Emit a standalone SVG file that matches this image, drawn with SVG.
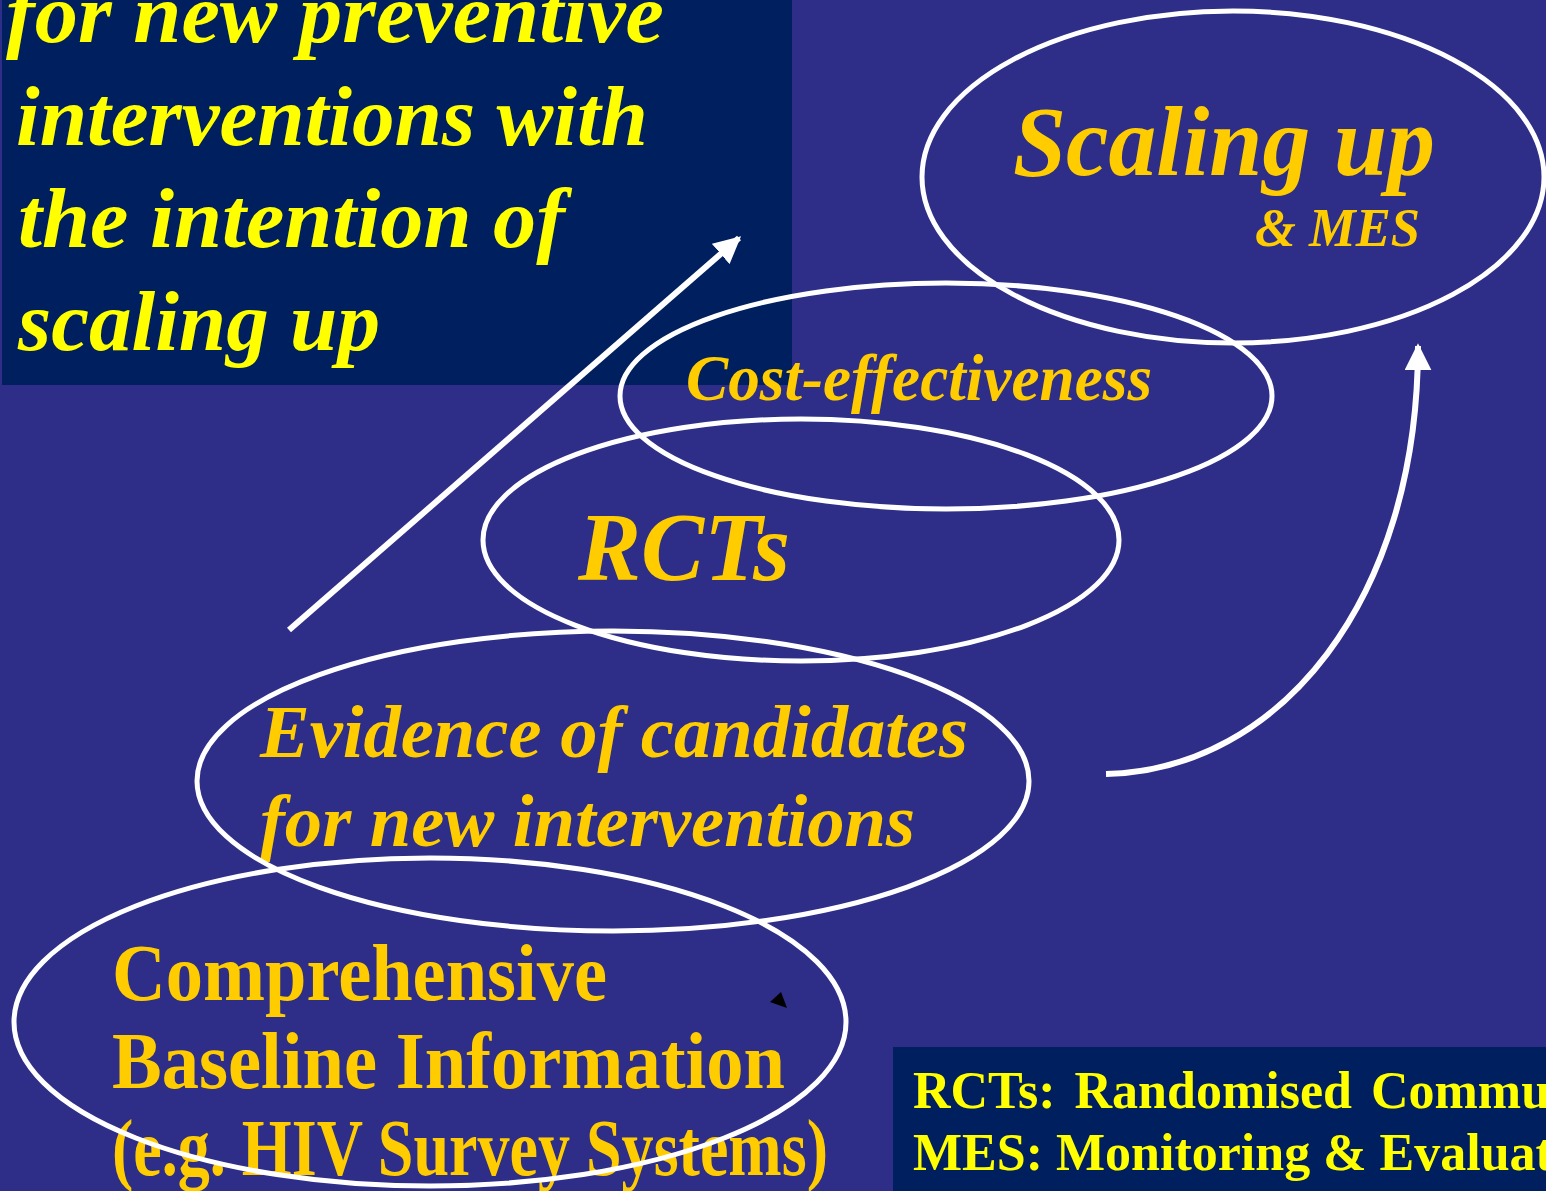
<svg xmlns="http://www.w3.org/2000/svg" width="1546" height="1191" viewBox="0 0 1546 1191">
<defs>
<style>
.yl{fill:#FFFF00;font-family:"Liberation Serif","Times New Roman",serif;font-weight:bold;}
.gd{fill:#FFCC00;font-family:"Liberation Serif","Times New Roman",serif;font-weight:bold;}
.it{font-style:italic;}
.ell{fill:none;stroke:#FFFFFF;stroke-width:5;}
.con{fill:none;stroke:#FFFFFF;stroke-width:6;}
</style>
<marker id="ah" viewBox="0 0 10 10" refX="9" refY="5" markerWidth="4.5" markerHeight="4.5" markerUnits="strokeWidth" orient="auto">
<path d="M0,0 L10,5 L0,10 Z" fill="#FFFFFF"/>
</marker>
</defs>
<rect x="0" y="0" width="1546" height="1191" fill="#2E2E88"/>
<g id="title-box">
<rect x="2" y="0" width="790" height="385" fill="#001F5E"/>
<text class="yl it" font-size="84" x="6" y="42" textLength="658" lengthAdjust="spacingAndGlyphs">for new preventive</text>
<text class="yl it" font-size="84" x="16" y="145" textLength="632" lengthAdjust="spacingAndGlyphs">interventions with</text>
<text class="yl it" font-size="84" x="18" y="247" textLength="547" lengthAdjust="spacingAndGlyphs">the intention of</text>
<text class="yl it" font-size="84" x="18" y="350" textLength="362" lengthAdjust="spacingAndGlyphs">scaling up</text>
</g>
<g id="legend-box">
<rect x="893" y="1047" width="653" height="144" fill="#001F5E"/>
<text class="yl" font-size="52" x="913" y="1108" word-spacing="6">RCTs: Randomised Community</text>
<text class="yl" font-size="52" x="913" y="1170">MES: Monitoring &amp; Evaluation</text>
</g>
<g id="node-scaling">
<text class="gd it" font-size="100" x="1013" y="175" textLength="422" lengthAdjust="spacingAndGlyphs">Scaling up</text>
<text class="gd it" font-size="54" x="1255" y="246" textLength="165" lengthAdjust="spacingAndGlyphs">&amp; MES</text>
<ellipse class="ell" cx="1233" cy="177" rx="311" ry="166"/>
</g>
<g id="node-cost">
<text class="gd it" font-size="66" x="686" y="400" textLength="466" lengthAdjust="spacingAndGlyphs">Cost-effectiveness</text>
<ellipse class="ell" cx="946" cy="396" rx="326" ry="113"/>
</g>
<g id="node-rcts">
<text class="gd it" font-size="98" x="578" y="580" textLength="212" lengthAdjust="spacingAndGlyphs">RCTs</text>
<ellipse class="ell" cx="801" cy="540" rx="318" ry="121"/>
</g>
<g id="node-evidence">
<text class="gd it" font-size="75" x="260" y="757" textLength="708" lengthAdjust="spacingAndGlyphs">Evidence of candidates</text>
<text class="gd it" font-size="75" x="260" y="846" textLength="655" lengthAdjust="spacingAndGlyphs">for new interventions</text>
<ellipse class="ell" cx="613" cy="781" rx="416" ry="150"/>
</g>
<g id="node-baseline">
<text class="gd" font-size="80" x="112" y="1000" textLength="495" lengthAdjust="spacingAndGlyphs">Comprehensive</text>
<text class="gd" font-size="80" x="112" y="1088" textLength="673" lengthAdjust="spacingAndGlyphs">Baseline Information</text>
<text class="gd" font-size="80" x="112" y="1175" textLength="716" lengthAdjust="spacingAndGlyphs">(e.g. HIV Survey Systems)</text>
<ellipse class="ell" cx="430" cy="1022" rx="416" ry="164"/>
<polygon points="770,1002 781,992 787,1008" fill="#000000"/>
</g>
<g id="connectors">
<line class="con" x1="289" y1="630" x2="739" y2="238" marker-end="url(#ah)"/>
<path class="con" d="M1106,774 C1280,770 1418,600 1418,346" marker-end="url(#ah)"/>
</g>
</svg>
